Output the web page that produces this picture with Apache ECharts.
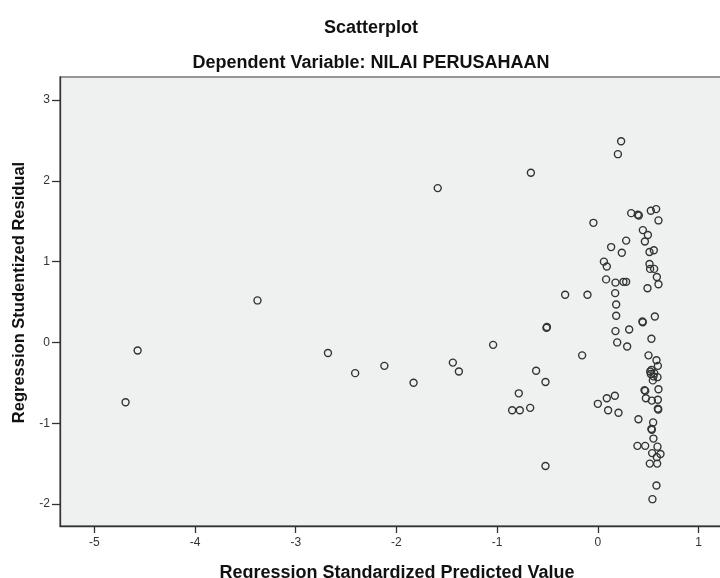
<!DOCTYPE html>
<html>
<head>
<meta charset="utf-8">
<script src="https://cdn.jsdelivr.net/npm/echarts@6/dist/echarts.min.js"></script>
<style>
html,body{margin:0;padding:0;background:#fff;}
#chart{width:720px;height:578px;}
</style>
</head>
<body>
<div id="chart"></div>
<script>
var chartTitle = 'Scatterplot';
var chartSubtitle = 'Dependent Variable: NILAI PERUSAHAAN';
var xAxisTitle = 'Regression Standardized Predicted Value';
var yAxisTitle = 'Regression Studentized Residual';

var xTicks = [-5, -4, -3, -2, -1, 0, 1];
var yTicks = [-2, -1, 0, 1, 2, 3];

var predicted = [
  -4.69, -4.57, -3.38, -2.68, -2.41, -2.12, -1.83, -1.44, -1.38, -1.59, -0.665, -1.04,
  0.231, 0.199, 0.331, 0.397, 0.407, 0.526, 0.579, 0.602, -0.044, 0.447, 0.497, 0.467, 0.281,
  0.132, 0.238, 0.513, 0.556, 0.060, 0.089, 0.513, 0.519, 0.559, 0.586, 0.602, 0.493, 0.082,
  0.175, 0.254, 0.281, 0.172, 0.182, 0.182, -0.325, -0.103, 0.566, 0.443, 0.446, -0.506, -0.510,
  0.175, 0.311, 0.192, 0.291, 0.532, -0.156, -0.613, -0.520, -0.785, -0.851, -0.775, -0.672,
  -0.520, 0.000, 0.089, 0.169, 0.102, 0.205, 0.403,
  0.503, 0.582, 0.596, 0.532, 0.526, 0.553, 0.592, 0.546, 0.602, 0.463, 0.470, 0.477, 0.536,
  0.596, 0.596, 0.600, 0.549, 0.532, 0.536, 0.552, 0.393, 0.470, 0.592, 0.539, 0.622, 0.586,
  0.516, 0.589, 0.582, 0.542, 0.520, 0.560
];
var residual = [
  -0.74, -0.10, 0.52, -0.13, -0.38, -0.29, -0.50, -0.25, -0.36, 1.91, 2.10, -0.03,
  2.49, 2.33, 1.60, 1.58, 1.57, 1.63, 1.65, 1.51, 1.48, 1.39, 1.33, 1.25, 1.26,
  1.18, 1.11, 1.12, 1.14, 1.00, 0.94, 0.97, 0.91, 0.91, 0.81, 0.72, 0.67, 0.78,
  0.74, 0.75, 0.75, 0.61, 0.47, 0.33, 0.59, 0.59, 0.32, 0.26, 0.25, 0.19, 0.18,
  0.14, 0.16, 0.00, -0.05, 0.045, -0.16, -0.35, -0.49, -0.63, -0.84, -0.84, -0.81,
  -1.53, -0.76, -0.69, -0.66, -0.84, -0.87, -0.95,
  -0.16, -0.22, -0.29, -0.34, -0.39, -0.42, -0.43, -0.47, -0.58, -0.59, -0.60, -0.69, -0.72,
  -0.71, -0.82, -0.83, -0.99, -1.07, -1.08, -1.19, -1.28, -1.28, -1.29, -1.37, -1.38, -1.42,
  -1.50, -1.50, -1.77, -1.94, -0.36, -0.38
];

var points = predicted.map(function (x, i) { return [x, residual[i]]; });

var chart = echarts.init(document.getElementById('chart'));
var fontFam = '"Liberation Sans", Arial, sans-serif';
chart.setOption({
  backgroundColor: '#ffffff',
  animation: false,
  title: [
    { text: chartTitle, left: 366, textAlign: 'center', top: 14,
      textStyle: { fontFamily: fontFam, fontSize: 18, fontWeight: 'bold', color: '#111' } },
    { text: chartSubtitle, left: 366, textAlign: 'center', top: 49,
      textStyle: { fontFamily: fontFam, fontSize: 18, fontWeight: 'bold', color: '#111' } }
  ],
  grid: {
    left: 60, top: 77, width: 674, height: 449,
    outerBoundsMode: 'none', containLabel: false,
    show: true, backgroundColor: '#eff0f0', borderColor: '#777', borderWidth: 1.5
  },
  xAxis: {
    type: 'value', min: -5.341, max: 1.352,
    name: xAxisTitle, nameLocation: 'middle', nameGap: 38,
    nameTextStyle: { fontFamily: fontFam, fontSize: 18, fontWeight: 'bold', color: '#111' },
    axisLine: { show: true, onZero: false, lineStyle: { color: '#333', width: 1.3 } },
    axisTick: { show: true, length: 7, customValues: xTicks, lineStyle: { color: '#333', width: 1.3 } },
    axisLabel: { customValues: xTicks, margin: 11, fontFamily: fontFam, fontSize: 12, color: '#333' },
    splitLine: { show: false }
  },
  yAxis: {
    type: 'value', min: -2.272, max: 3.285,
    name: yAxisTitle, nameLocation: 'middle', nameGap: 30, nameRotate: 90,
    nameTextStyle: { fontFamily: fontFam, fontSize: 16.5, fontWeight: 'bold', color: '#111',
      padding: [0, 0, 0, 18] },
    axisLine: { show: true, onZero: false, lineStyle: { color: '#333', width: 1.3 } },
    axisTick: { show: true, length: 8, customValues: yTicks, lineStyle: { color: '#333', width: 1.3 } },
    axisLabel: { customValues: yTicks, margin: 10, fontFamily: fontFam, fontSize: 12, color: '#333' },
    splitLine: { show: false }
  },
  series: [{
    type: 'scatter',
    data: points,
    symbol: 'circle',
    symbolSize: 7,
    itemStyle: { color: 'rgba(0,0,0,0)', borderColor: '#333', borderWidth: 1.4, opacity: 1 }
  }]
});
</script>
</body>
</html>
